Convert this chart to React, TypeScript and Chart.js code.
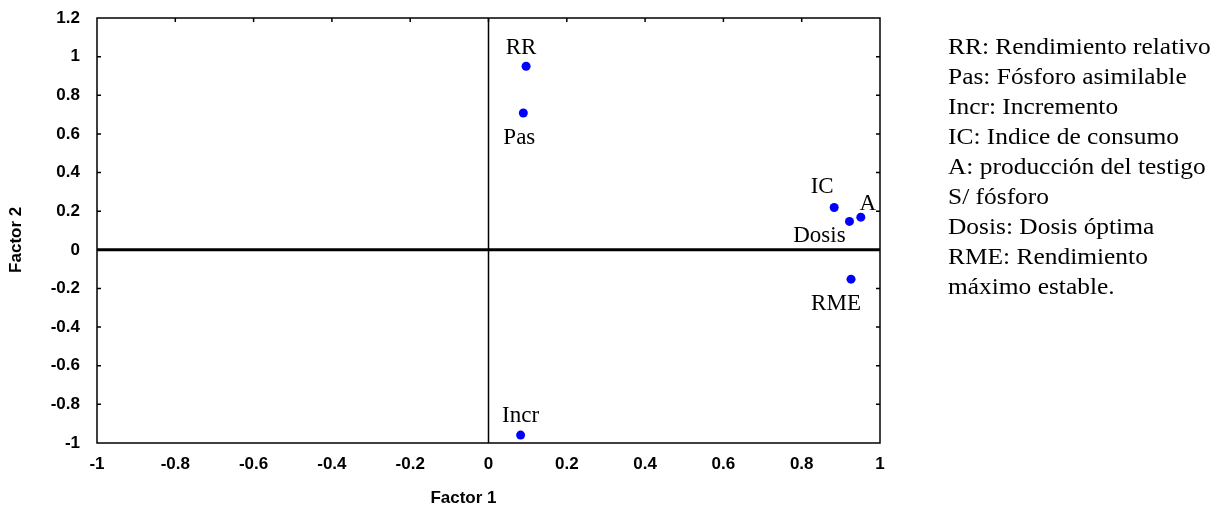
import React, { useEffect, useRef } from "react";
import { Chart, registerables } from "chart.js";

Chart.register(...registerables);

// ---- Data ----
const VARIABLES = ["RR", "Pas", "Incr", "IC", "Dosis", "A", "RME"];
const FACTOR1 = [0.096, 0.089, 0.082, 0.883, 0.922, 0.951, 0.926];
const FACTOR2 = [0.95, 0.708, -0.959, 0.219, 0.147, 0.169, -0.152];

const X_MIN = -1;
const X_MAX = 1;
const Y_MIN = -1;
const Y_MAX = 1.2;
const TICK_STEP = 0.2;

const X_TITLE = "Factor 1";
const Y_TITLE = "Factor 2";

const LEGEND_LINES = [
  "RR: Rendimiento relativo",
  "Pas: Fósforo asimilable",
  "Incr: Incremento",
  "IC: Indice de consumo",
  "A: producción del testigo",
  "S/ fósforo",
  "Dosis: Dosis óptima",
  "RME: Rendimiento",
  "máximo estable.",
];

// label placement relative to each point (pixels: dx, baseline dy)
const LABEL_OFFSETS: [number, number][] = [
  [-5, -12],
  [-4, 31],
  [0, -13],
  [-12, -15],
  [-30, 21],
  [7, -7],
  [-15, 31],
];

const formatTick = (v: number) => String(Math.round(v * 10) / 10);

const framePlugin = {
  id: "frame",
  beforeDatasetsDraw(chart: any) {
    const { ctx, chartArea: a, scales } = chart;
    const x0 = scales.x.getPixelForValue(0);
    const y0 = scales.y.getPixelForValue(0);
    ctx.save();
    ctx.strokeStyle = "#000";
    ctx.lineWidth = 1.5;
    ctx.beginPath();
    ctx.moveTo(x0, a.top);
    ctx.lineTo(x0, a.bottom);
    ctx.stroke();
    ctx.lineWidth = 3;
    ctx.beginPath();
    ctx.moveTo(a.left, y0);
    ctx.lineTo(a.right, y0);
    ctx.stroke();
    ctx.restore();
  },
  afterDatasetsDraw(chart: any) {
    const { ctx, chartArea: a, scales } = chart;
    ctx.save();
    // frame
    ctx.strokeStyle = "#000";
    ctx.lineWidth = 1.5;
    ctx.strokeRect(a.left, a.top, a.right - a.left, a.bottom - a.top);
    // inward tick marks (left, right, top)
    ctx.beginPath();
    scales.y.ticks.forEach((t: any) => {
      const p = scales.y.getPixelForValue(t.value);
      if (p <= a.top + 1 || p >= a.bottom - 1) return;
      ctx.moveTo(a.left, p);
      ctx.lineTo(a.left + 4, p);
      ctx.moveTo(a.right, p);
      ctx.lineTo(a.right - 4, p);
    });
    scales.x.ticks.forEach((t: any) => {
      const p = scales.x.getPixelForValue(t.value);
      if (p <= a.left + 1 || p >= a.right - 1) return;
      ctx.moveTo(p, a.top);
      ctx.lineTo(p, a.top + 4);
    });
    ctx.stroke();

    // point labels
    const meta = chart.getDatasetMeta(0);
    ctx.fillStyle = "#000";
    ctx.font = '23px "Liberation Serif", "Times New Roman", serif';
    ctx.textAlign = "center";
    ctx.textBaseline = "alphabetic";
    meta.data.forEach((el: any, i: number) => {
      const [dx, dy] = LABEL_OFFSETS[i];
      ctx.fillText(VARIABLES[i], el.x + dx, el.y + dy);
    });

    // axis titles
    ctx.font = 'bold 17px "Liberation Sans", Arial, sans-serif';
    ctx.textBaseline = "middle";
    ctx.textAlign = "center";
    const w = a.right - a.left;
    ctx.fillText(X_TITLE, a.left + w * 0.468, a.bottom + 55);
    ctx.translate(16, a.top + (a.bottom - a.top) * 0.522);
    ctx.rotate(-Math.PI / 2);
    ctx.fillText(Y_TITLE, 0, 0);
    ctx.restore();
  },
};

export default function App() {
  const canvasRef = useRef<HTMLCanvasElement | null>(null);

  useEffect(() => {
    const canvas = canvasRef.current;
    if (!canvas) return;
    const tickFont = {
      family: '"Liberation Sans", Arial, sans-serif',
      size: 17,
      weight: "bold" as const,
    };
    const chart = new Chart(canvas, {
      type: "scatter",
      data: {
        datasets: [
          {
            label: "Variables",
            data: FACTOR1.map((x, i) => ({ x, y: FACTOR2[i] })),
            backgroundColor: "#0000ff",
            borderColor: "#0000ff",
            pointRadius: 4.5,
            pointHoverRadius: 4.5,
            pointBorderWidth: 0,
          },
        ],
      },
      options: {
        animation: false,
        responsive: false,
        maintainAspectRatio: false,
        events: [],
        layout: { padding: { top: 18, right: 352, bottom: 0, left: 0 } },
        plugins: {
          legend: { display: false },
          tooltip: { enabled: false },
          title: { display: false },
        },
        scales: {
          x: {
            type: "linear",
            position: "bottom",
            min: X_MIN,
            max: X_MAX,
            grid: { display: false, drawTicks: false },
            border: { display: false },
            ticks: {
              stepSize: TICK_STEP,
              color: "#000",
              font: tickFont,
              padding: 11,
              maxRotation: 0,
              autoSkip: false,
              callback: (v: any) => formatTick(Number(v)),
            },
            afterFit(scale: any) {
              scale.height = 65;
              scale.paddingLeft = 0;
              scale.paddingRight = 0;
            },
          },
          y: {
            type: "linear",
            position: "left",
            min: Y_MIN,
            max: Y_MAX,
            grid: { display: false, drawTicks: false },
            border: { display: false },
            ticks: {
              stepSize: TICK_STEP,
              color: "#000",
              font: tickFont,
              padding: 17,
              autoSkip: false,
              callback: (v: any) => formatTick(Number(v)),
            },
            afterFit(scale: any) {
              scale.width = 97;
              scale.paddingTop = 0;
              scale.paddingBottom = 0;
            },
          },
        },
      },
      plugins: [framePlugin],
    });
    return () => chart.destroy();
  }, []);

  return (
    <div
      style={{
        position: "absolute",
        left: 0,
        top: 0,
        width: 1232,
        height: 508,
        background: "#fff",
        overflow: "hidden",
      }}
    >
      <canvas
        ref={canvasRef}
        width={1232}
        height={508}
        style={{ position: "absolute", left: 0, top: 0, width: 1232, height: 508 }}
      />
      <div
        style={{
          position: "absolute",
          left: 948,
          top: 32,
          fontFamily: '"Liberation Serif", "Times New Roman", serif',
          fontSize: "22.5px",
          lineHeight: "30px",
          color: "#000",
          whiteSpace: "nowrap",
          transform: "scaleX(1.13)",
          transformOrigin: "0 0",
        }}
      >
        {LEGEND_LINES.map((line, i) => (
          <div key={i}>{line}</div>
        ))}
      </div>
    </div>
  );
}
